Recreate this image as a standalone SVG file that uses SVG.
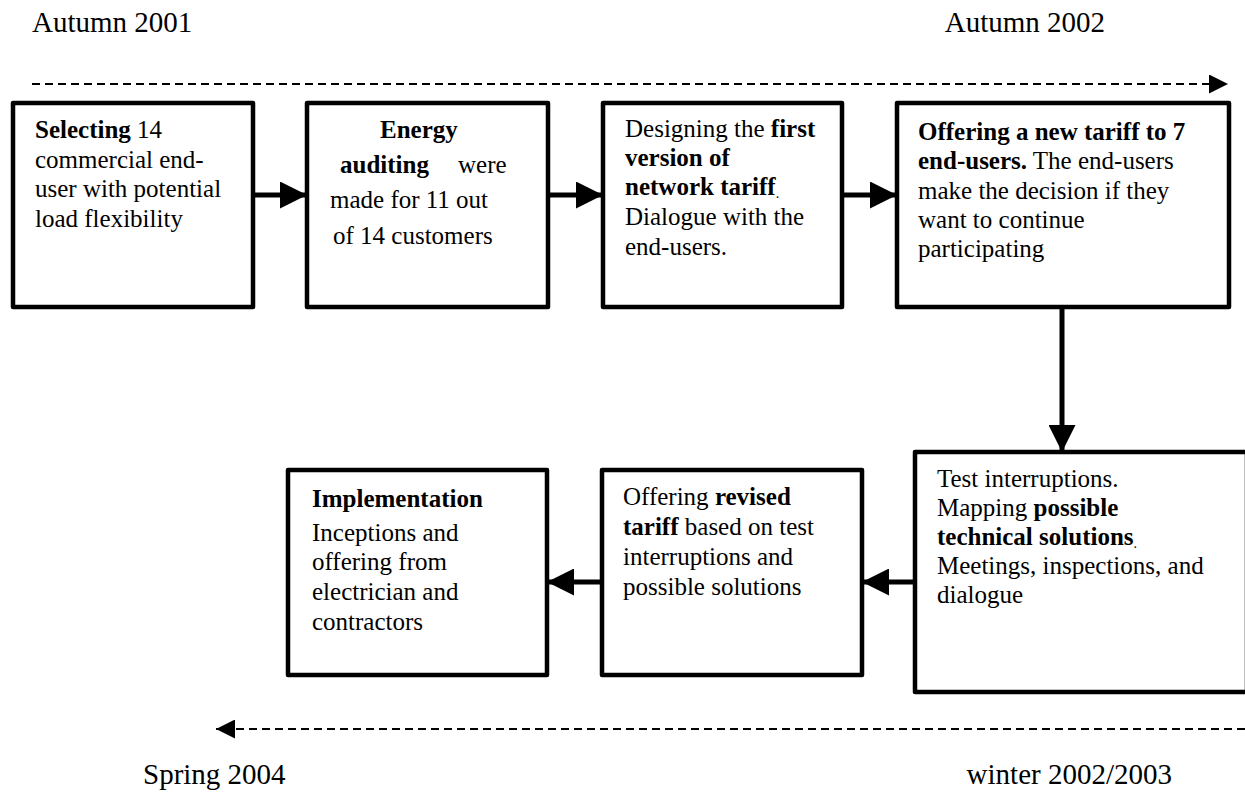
<svg xmlns="http://www.w3.org/2000/svg" width="1245" height="792" viewBox="0 0 1245 792">
<style>
text{font-family:"Liberation Serif","Times New Roman",serif;fill:#000}
.t{font-size:25px}
.lbl{font-size:29px}
.b{font-weight:bold}
.box{fill:#fff;stroke:#000;stroke-width:4.5;stroke-linejoin:round}
.arr{stroke:#000;stroke-width:5;fill:none}
.dash{stroke:#000;stroke-width:2;fill:none;stroke-dasharray:8 5}
.sm{font-size:14px}
</style>
<defs>
<marker id="ah" viewBox="0 0 10 10" refX="10" refY="5" markerWidth="5.6" markerHeight="5.4" markerUnits="strokeWidth" orient="auto"><path d="M0,0 L10,5 L0,10 z" fill="#000"/></marker>
<marker id="dh" viewBox="0 0 10 10" refX="10" refY="5" markerWidth="10" markerHeight="9.5" markerUnits="strokeWidth" orient="auto"><path d="M0,0 L10,5 L0,10 z" fill="#000"/></marker>
</defs>

<g id="labels">
<text class="lbl" x="32" y="32">Autumn 2001</text>
<text class="lbl" x="1105" y="32" text-anchor="end">Autumn 2002</text>
<text class="lbl" x="143" y="784">Spring 2004</text>
<text class="lbl" x="1172" y="784" text-anchor="end">winter 2002/2003</text>
</g>

<g id="connectors">
<line class="dash" x1="32" y1="84" x2="1228" y2="84" marker-end="url(#dh)"/>
<line class="dash" x1="1245" y1="729" x2="216" y2="729" marker-end="url(#dh)"/>
<line class="arr" x1="253" y1="195" x2="307" y2="195" marker-end="url(#ah)"/>
<line class="arr" x1="548" y1="195" x2="603" y2="195" marker-end="url(#ah)"/>
<line class="arr" x1="842" y1="195" x2="897" y2="195" marker-end="url(#ah)"/>
<line class="arr" x1="1062" y1="307" x2="1062" y2="452" marker-end="url(#ah)"/>
<line class="arr" x1="913" y1="582" x2="862" y2="582" marker-end="url(#ah)"/>
<line class="arr" x1="602" y1="582" x2="547" y2="582" marker-end="url(#ah)"/>
</g>

<g id="n1">
<rect class="box" x="13" y="103" width="240" height="204"/>
<text class="t" x="35" y="138"><tspan class="b">Selecting</tspan> 14</text>
<text class="t" x="35" y="167.5">commercial end-</text>
<text class="t" x="35" y="197">user with potential</text>
<text class="t" x="35" y="226.5">load flexibility</text>
</g>

<g id="n2">
<rect class="box" x="307" y="103" width="241" height="204"/>
<text class="t b" x="380" y="138">Energy</text>
<text class="t" x="340" y="173"><tspan class="b">auditing</tspan></text>
<text class="t" x="458" y="173">were</text>
<text class="t" x="330" y="208">made for 11 out</text>
<text class="t" x="333" y="244">of 14 customers</text>
</g>

<g id="n3">
<rect class="box" x="603" y="103" width="239" height="204"/>
<text class="t" x="625" y="137">Designing the <tspan class="b">first</tspan></text>
<text class="t b" x="625" y="166">version of</text>
<text class="t" x="625" y="195"><tspan class="b">network tariff</tspan><tspan class="sm" dy="3">.</tspan></text>
<text class="t" x="625" y="225">Dialogue with the</text>
<text class="t" x="625" y="255">end-users.</text>
</g>

<g id="n4">
<rect class="box" x="897" y="103" width="332" height="204"/>
<text class="t b" x="918" y="140">Offering a new tariff to 7</text>
<text class="t" x="918" y="169"><tspan class="b">end-users.</tspan> The end-users</text>
<text class="t" x="918" y="198.5">make the decision if they</text>
<text class="t" x="918" y="228">want to continue</text>
<text class="t" x="918" y="257">participating</text>
</g>

<g id="n5">
<rect class="box" x="915" y="452" width="332" height="240"/>
<text class="t" x="937" y="487">Test interruptions.</text>
<text class="t" x="937" y="516">Mapping <tspan class="b">possible</tspan></text>
<text class="t" x="937" y="545"><tspan class="b">technical solutions</tspan><tspan class="sm" dy="3">.</tspan></text>
<text class="t" x="937" y="574">Meetings, inspections, and</text>
<text class="t" x="937" y="603">dialogue</text>
</g>

<g id="n6">
<rect class="box" x="602" y="470" width="260" height="205"/>
<text class="t" x="623" y="505">Offering <tspan class="b">revised</tspan></text>
<text class="t" x="623" y="535"><tspan class="b">tariff</tspan> based on test</text>
<text class="t" x="623" y="565">interruptions and</text>
<text class="t" x="623" y="595">possible solutions</text>
</g>

<g id="n7">
<rect class="box" x="288" y="470" width="259" height="205"/>
<text class="t b" x="312" y="507">Implementation</text>
<text class="t" x="312" y="541">Inceptions and</text>
<text class="t" x="312" y="570">offering from</text>
<text class="t" x="312" y="600">electrician and</text>
<text class="t" x="312" y="630">contractors</text>
</g>
</svg>
